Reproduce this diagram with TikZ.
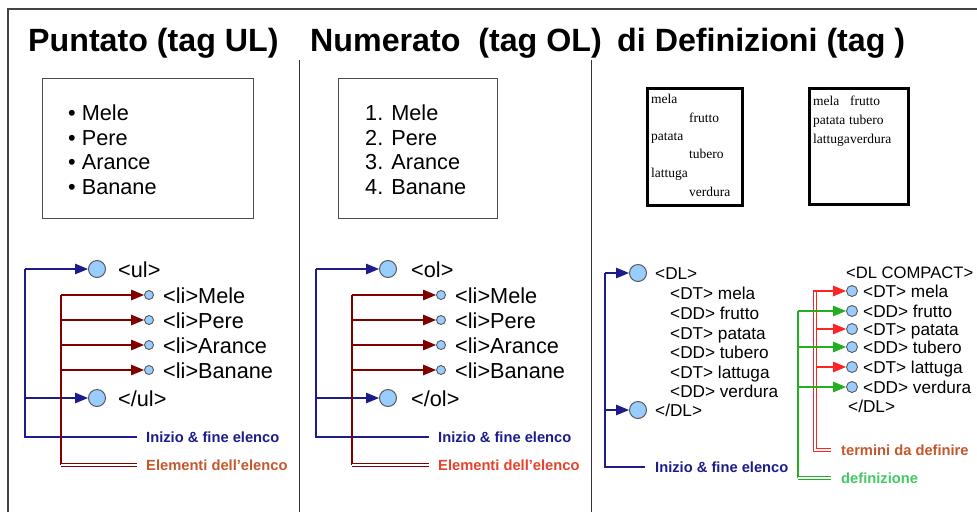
\documentclass[tikz,border=0pt]{standalone}
\usepackage{fontspec}
\setmainfont{Liberation Sans}
\newfontfamily\pageserif{Liberation Serif}
\usetikzlibrary{arrows.meta, positioning}

\definecolor{frameGray}{HTML}{444444}
\definecolor{navyLine}{HTML}{1C1C8C}
\definecolor{darkRed}{HTML}{800000}
\definecolor{brownLabel}{HTML}{C4572C}
\definecolor{redLabel}{HTML}{E8402A}
\definecolor{dtRed}{HTML}{FF2424}
\definecolor{ddGreen}{HTML}{22B022}
\definecolor{greenLabel}{HTML}{44C866}
\definecolor{dotBlue}{HTML}{99CCFF}

\begin{document}
\begin{tikzpicture}[x=1pt, y=-1pt,
                title/.style={anchor=base west, inner sep=0pt, font=\fontsize{32.2}{38}\selectfont\bfseries},
                listtext/.style={anchor=base west, inner sep=0pt, font=\fontsize{21.7}{24}\selectfont},
                tagtext/.style={anchor=base west, inner sep=0pt, font=\fontsize{21.7}{24}\selectfont},
                dltext/.style={anchor=base west, inner sep=0pt, font=\fontsize{17.2}{20}\selectfont},
                pagetext/.style={anchor=base west, inner sep=0pt, font=\pageserif\fontsize{13.5}{15}\selectfont},
                legend/.style={anchor=west, inner sep=0pt, font=\fontsize{14.7}{17}\selectfont\bfseries},
                bigdot/.style={circle, draw=black!65, line width=1pt, fill=dotBlue, minimum size=17pt, inner sep=0pt},
                smalldot/.style={circle, draw=black!65, line width=0.9pt, fill=dotBlue, minimum size=9pt, inner sep=0pt},
                middot/.style={circle, draw=black!65, line width=0.9pt, fill=dotBlue, minimum size=11pt, inner sep=0pt},
                arr/.style={-{Triangle[length=13pt, width=10.5pt]}},
                wire/.style={line width=1.3pt},
                bottomwire/.style={double, line width=1.5pt, double distance=1.6pt}]
                \useasboundingbox (0,0) rectangle (977,512);
                % frame and dividers
                \draw[frameGray, line width=1.5pt] (8,512) -- (8,9) -- (977,9);
                \draw[black!80, line width=1pt] (299,60) -- (299,512);
                \draw[black!80, line width=1pt] (591,60) -- (591,512);
                \node[title] (ultitle) at (28,51) {Puntato (tag UL)};
                \node[title] (oltitle) at (310,51) {Numerato\ \ (tag OL)};
                \node[title] (dltitle) at (617,51) {di Definizioni (tag )};

                % rendered lists
                \node[draw=black!70, line width=1.2pt, minimum width=211pt, minimum height=140pt, anchor=north west] (ulbox) at (42,78) {};
                \node[listtext] (ulmele)   at (68,120) {\textbullet\ Mele};
                \node[listtext] (ulpere)   at (68,145) {\textbullet\ Pere};
                \node[listtext] (ularance) at (68,169) {\textbullet\ Arance};
                \node[listtext] (ulbanane) at (68,194) {\textbullet\ Banane};
                \node[draw=black!70, line width=1.2pt, minimum width=159pt, minimum height=140pt, anchor=north west] (olbox) at (338,78) {};
                \node[listtext] (olmele)   at (365,120) {1. Mele};
                \node[listtext] (olpere)   at (365,145) {2. Pere};
                \node[listtext] (olarance) at (365,169) {3. Arance};
                \node[listtext] (olbanane) at (365,194) {4. Banane};
                \node[draw, line width=3.5pt, minimum width=95pt, minimum height=117pt, anchor=north west] (dlpage) at (645.75,86.75) {};
                \node[pagetext] (pmela)    at (651,103) {mela};
                \node[pagetext] (pfrutto)  at (689,122) {frutto};
                \node[pagetext] (ppatata)  at (651,140) {patata};
                \node[pagetext] (ptubero)  at (689,158) {tubero};
                \node[pagetext] (plattuga) at (651,177) {lattuga};
                \node[pagetext] (pverdura) at (689,196) {verdura};
                \node[draw, line width=3.5pt, minimum width=99pt, minimum height=116pt, anchor=north west] (cppage) at (807.75,86.75) {};
                \node[pagetext] (cmela)    at (813,105) {mela};
                \node[pagetext] (cfrutto)  at (850,105) {frutto};
                \node[pagetext] (cpatata)  at (813,124) {patata};
                \node[pagetext] (ctubero)  at (849,124) {tubero};
                \node[pagetext] (clattuga) at (813,143) {lattuga};
                \node[pagetext] (cverdura) at (850,143) {verdura};

                % UL tags
                \node[bigdot]   (ulopen)  at (97,269) {};
                \node[tagtext]  at (118,277) {<ul>};
                \node[smalldot] (ulli1) at (149,295) {};
                \node[smalldot] (ulli2) at (149,320) {};
                \node[smalldot] (ulli3) at (149,345) {};
                \node[smalldot] (ulli4) at (149,370) {};
                \node[tagtext]  at (163,303) {<li>Mele};
                \node[tagtext]  at (163,328) {<li>Pere};
                \node[tagtext]  at (163,353) {<li>Arance};
                \node[tagtext]  at (163,378) {<li>Banane};
                \node[bigdot]   (ulclose) at (97,398) {};
                \node[tagtext]  at (118,406) {</ul>};
                \node[legend, navyLine]   (ulinfo)  at (146,437) {Inizio \& fine elenco};
                \node[legend, brownLabel] (ulitems) at (146,465) {Elementi dell'elenco};
                \coordinate (ulT) at (25,269);
                \coordinate (ulB) at (25,437);
                \coordinate (liT) at (61,295);
                \coordinate (liB) at (61,465);
                \draw[navyLine, wire, arr] (ulT) -- (ulopen);
                \draw[navyLine, wire] (ulT) -- (ulB) -- ([xshift=-9pt]ulinfo.west);
                \draw[navyLine, wire, arr] (ulB |- ulclose) -- (ulclose);
                \draw[darkRed, wire] (liT) -- (liB);
                \draw[darkRed, bottomwire] (liB) -- ([xshift=-9pt]ulitems.west);
                \draw[darkRed, wire, arr] (liT) -- (ulli1);
                \draw[darkRed, wire, arr] (liT |- ulli2) -- (ulli2);
                \draw[darkRed, wire, arr] (liT |- ulli3) -- (ulli3);
                \draw[darkRed, wire, arr] (liT |- ulli4) -- (ulli4);

                % OL tags
                \node[bigdot]   (olopen)  at (388,269) {};
                \node[tagtext]  at (411,277) {<ol>};
                \node[smalldot] (olli1) at (441,295) {};
                \node[smalldot] (olli2) at (441,320) {};
                \node[smalldot] (olli3) at (441,345) {};
                \node[smalldot] (olli4) at (441,370) {};
                \node[tagtext]  at (455,303) {<li>Mele};
                \node[tagtext]  at (455,328) {<li>Pere};
                \node[tagtext]  at (455,353) {<li>Arance};
                \node[tagtext]  at (455,378) {<li>Banane};
                \node[bigdot]   (olclose) at (388,398) {};
                \node[tagtext]  at (411,406) {</ol>};
                \node[legend, navyLine] (olinfo)  at (438,437) {Inizio \& fine elenco};
                \node[legend, redLabel] (olitems) at (438,465) {Elementi dell'elenco};
                \coordinate (olT) at (316,269);
                \coordinate (olB) at (316,437);
                \coordinate (oliT) at (352,295);
                \coordinate (oliB) at (352,465);
                \draw[navyLine, wire, arr] (olT) -- (olopen);
                \draw[navyLine, wire] (olT) -- (olB) -- ([xshift=-9pt]olinfo.west);
                \draw[navyLine, wire, arr] (olB |- olclose) -- (olclose);
                \draw[darkRed, wire] (oliT) -- (oliB);
                \draw[darkRed, bottomwire] (oliB) -- ([xshift=-9pt]olitems.west);
                \draw[darkRed, wire, arr] (oliT) -- (olli1);
                \draw[darkRed, wire, arr] (oliT |- olli2) -- (olli2);
                \draw[darkRed, wire, arr] (oliT |- olli3) -- (olli3);
                \draw[darkRed, wire, arr] (oliT |- olli4) -- (olli4);

                % DL tags
                \node[bigdot]  (dlopen)  at (638,273) {};
                \node[dltext]  at (655,279) {<DL>};
                \node[dltext]  at (670,299) {<DT> mela};
                \node[dltext]  at (670,319) {<DD> frutto};
                \node[dltext]  at (670,339) {<DT> patata};
                \node[dltext]  at (670,358) {<DD> tubero};
                \node[dltext]  at (670,378) {<DT> lattuga};
                \node[dltext]  at (670,397) {<DD> verdura};
                \node[bigdot]  (dlclose) at (638,410) {};
                \node[dltext]  at (655,416) {</DL>};
                \node[legend, navyLine] (dlinfo) at (655,467) {Inizio \& fine elenco};
                \coordinate (dlT) at (605,273);
                \coordinate (dlB) at (605,467);
                \draw[navyLine, wire, arr] (dlT) -- (dlopen);
                \draw[navyLine, wire] (dlT) -- (dlB) -- ([xshift=-10pt]dlinfo.west);
                \draw[navyLine, wire, arr] (dlB |- dlclose) -- (dlclose);

                % DL COMPACT tags
                \node[dltext, font=\fontsize{16.6}{20}\selectfont] at (846,278) {<DL COMPACT>};
                \node[middot]  (cdt1) at (852,291) {};
                \node[middot]  (cdd1) at (852,311) {};
                \node[middot]  (cdt2) at (852,329) {};
                \node[middot]  (cdd2) at (852,347) {};
                \node[middot]  (cdt3) at (852,367) {};
                \node[middot]  (cdd3) at (852,387) {};
                \node[dltext]  at (863,297) {<DT> mela};
                \node[dltext]  at (863,317) {<DD> frutto};
                \node[dltext]  at (863,335) {<DT> patata};
                \node[dltext]  at (863,353) {<DD> tubero};
                \node[dltext]  at (863,373) {<DT> lattuga};
                \node[dltext]  at (863,393) {<DD> verdura};
                \node[dltext]  at (848,412) {</DL>};
                \node[legend, brownLabel] (cterms) at (841,450) {termini da definire};
                \node[legend, greenLabel] (cdefs)  at (841,478) {definizione};
                \coordinate (dtT) at (815,291);
                \coordinate (dtB) at (815,450);
                \coordinate (ddT) at (798,311);
                \coordinate (ddB) at (798,478);
                \draw[dtRed, bottomwire] (dtT) -- (dtB) -- ([xshift=-10pt]cterms.west);
                \draw[dtRed, wire, arr] ([xshift=-2pt]dtT) -- (cdt1);
                \draw[dtRed, wire, arr] ([xshift=2pt]dtT |- cdt2) -- (cdt2);
                \draw[dtRed, wire, arr] ([xshift=2pt]dtT |- cdt3) -- (cdt3);
                \draw[ddGreen, wire] (ddT) -- (ddB);
                \draw[ddGreen, bottomwire] (ddB) -- ([xshift=-10pt]cdefs.west);
                \draw[ddGreen, wire, arr] (ddT) -- (cdd1);
                \draw[ddGreen, wire, arr] (ddT |- cdd2) -- (cdd2);
                \draw[ddGreen, wire, arr] (ddT |- cdd3) -- (cdd3);
            \end{tikzpicture}
\end{document}
